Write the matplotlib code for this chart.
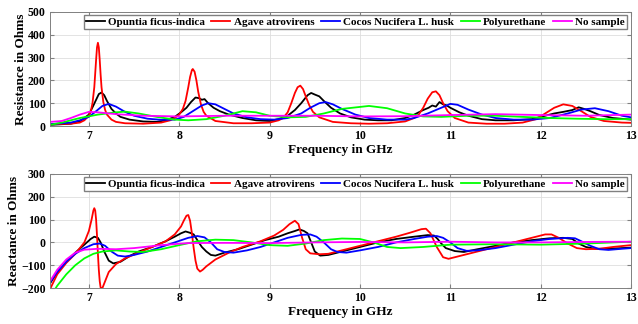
import matplotlib
matplotlib.use("Agg")
import matplotlib.pyplot as plt

plt.rcParams['font.family'] = ['Liberation Serif', 'DejaVu Serif']
plt.rcParams['font.weight'] = 'bold'

# ---- Resistance (top panel) ----
f_res_opuntia = [6.57, 6.8, 6.9, 7.0, 7.05, 7.08, 7.11, 7.14, 7.17, 7.2, 7.25, 7.3, 7.35, 7.45, 7.6,
                 7.75, 7.85, 7.95, 8.02, 8.08, 8.13, 8.18, 8.22, 8.25, 8.28, 8.32, 8.38, 8.45, 8.55,
                 8.7, 8.85, 9.0, 9.1, 9.2, 9.28, 9.35, 9.42, 9.46, 9.5, 9.55, 9.6, 9.68, 9.78, 9.9,
                 10.05, 10.2, 10.35, 10.5, 10.6, 10.7, 10.76, 10.8, 10.84, 10.88, 10.92, 10.96, 11.0,
                 11.1, 11.2, 11.35, 11.5, 11.7, 11.9, 12.05, 12.15, 12.25, 12.35, 12.42, 12.48, 12.55,
                 12.65, 12.8, 13.0]
r_opuntia = [5, 10, 20, 50, 90, 115, 140, 147, 135, 110, 75, 55, 40, 28, 20,
             18, 25, 40, 60, 80, 105, 125, 122, 115, 118, 100, 80, 65, 50,
             35, 25, 22, 30, 45, 70, 100, 135, 145, 138, 130, 110, 80, 55, 38,
             28, 25, 25, 35, 50, 70, 80, 90, 85, 105, 95, 90, 80,
             60, 45, 30, 25, 25, 30, 45, 55, 62, 70, 82, 75, 65,
             48, 35, 28]

f_res_agave = [6.57, 6.8, 6.9, 6.95, 7.0, 7.02, 7.04, 7.06, 7.07, 7.08, 7.09, 7.1, 7.11, 7.12, 7.13,
               7.14, 7.16, 7.18, 7.2, 7.25, 7.3, 7.4, 7.6, 7.8, 7.9, 7.95, 8.0, 8.04, 8.07, 8.1,
               8.12, 8.14, 8.15, 8.17, 8.19, 8.21, 8.24, 8.27, 8.3, 8.4, 8.6, 8.8, 9.0, 9.1, 9.15,
               9.2, 9.24, 9.28, 9.31, 9.34, 9.37, 9.4, 9.44, 9.48, 9.55, 9.7, 9.9,
               10.1, 10.3, 10.5, 10.6, 10.65, 10.7, 10.75, 10.8, 10.84, 10.88, 10.92, 10.97, 11.05,
               11.2, 11.4, 11.6, 11.8, 11.95, 12.05, 12.15, 12.25, 12.35, 12.45, 12.55, 12.7, 12.9, 13.0]
r_agave = [8, 10, 15, 25, 45, 62, 100, 170, 230, 290, 345, 365, 345, 290, 225,
           170, 105, 70, 50, 28, 18, 12, 10, 15, 25, 35, 50, 75, 110, 170,
           215, 245, 250, 238, 200, 150, 95, 62, 45, 22, 12, 12, 15, 25, 35,
           60, 100, 145, 170, 177, 162, 130, 90, 62, 38, 18, 12,
           10, 12, 20, 35, 50, 80, 120, 148, 152, 135, 100, 65, 35,
           15, 10, 10, 15, 30, 55, 80, 95, 88, 65, 40, 22, 15, 14]

f_res_cocos = [6.57, 6.8, 6.9, 7.0, 7.08, 7.15, 7.22, 7.3, 7.4, 7.5, 7.65, 7.8, 7.95, 8.05, 8.15,
               8.25, 8.32, 8.4, 8.5, 8.6, 8.75, 8.9, 9.05, 9.2, 9.35, 9.45, 9.55, 9.62, 9.7, 9.8,
               9.95, 10.1, 10.3, 10.5, 10.6, 10.75, 10.9, 11.0, 11.08, 11.2, 11.35, 11.5, 11.7, 11.9,
               12.1, 12.3, 12.45, 12.6, 12.75, 12.9, 13.0]
r_cocos = [8, 15, 25, 40, 65, 88, 97, 85, 62, 45, 32, 27, 28, 40, 65,
           90, 100, 95, 75, 55, 38, 30, 28, 35, 55, 80, 100, 105, 95, 75,
           50, 35, 28, 28, 35, 55, 80, 97, 93, 72, 50, 35, 28, 28,
           35, 55, 72, 78, 65, 45, 38]

f_res_poly = [6.57, 6.7, 6.9, 7.1, 7.3, 7.4, 7.55, 7.75, 7.95, 8.1, 8.3, 8.5, 8.7, 8.85, 9.0, 9.2,
              9.4, 9.6, 9.8, 10.1, 10.3, 10.5, 10.7, 10.9, 11.2, 11.5, 11.8, 12.1, 12.4, 12.7, 13.0]
r_poly = [5, 15, 35, 50, 60, 63, 55, 40, 28, 25, 30, 45, 65, 60, 45, 38,
          40, 55, 75, 88, 78, 55, 42, 40, 45, 45, 40, 35, 32, 30, 30]

f_res_none = [6.57, 6.7, 6.8, 6.9, 7.0, 7.1, 7.3, 7.6, 8.0, 8.5, 9.0, 9.5, 10.0, 10.5, 11.0,
              11.5, 12.0, 12.5, 13.0]
r_none = [18, 22, 35, 50, 62, 60, 52, 45, 42, 45, 45, 45, 42, 43, 48,
          52, 48, 45, 50]

# ---- Reactance (bottom panel) ----
f_x_opuntia = [6.57, 6.65, 6.75, 6.85, 6.95, 7.02, 7.06, 7.1, 7.13, 7.17, 7.22, 7.27, 7.35, 7.45,
               7.55, 7.7, 7.85, 7.95, 8.02, 8.07, 8.12, 8.16, 8.2, 8.25, 8.3, 8.35, 8.4, 8.5, 8.65,
               8.8, 8.95, 9.1, 9.2, 9.28, 9.33, 9.38, 9.42, 9.46, 9.5, 9.56, 9.65, 9.8, 10.0, 10.2,
               10.4, 10.6, 10.75, 10.82, 10.86, 10.9, 10.95, 11.05, 11.15, 11.3, 11.5, 11.7, 11.9,
               12.1, 12.25, 12.35, 12.42, 12.5, 12.6, 12.75, 12.9, 13.0]
x_opuntia = [-180, -130, -85, -45, -10, 15, 25, 20, 0, -40, -80, -92, -85, -60,
             -40, -20, 5, 25, 40, 48, 42, 35, 10, -20, -40, -55, -58, -45, -30,
             -10, 10, 25, 40, 50, 57, 50, 40, 0, -40, -58, -55, -40, -20, 0,
             15, 25, 32, 30, 15, -5, -25, -38, -42, -30, -15, 0, 10,
             18, 20, 15, -5, -20, -28, -28, -25, -23]

f_x_agave = [6.57, 6.65, 6.75, 6.85, 6.95, 7.0, 7.03, 7.05, 7.06, 7.07, 7.08, 7.09, 7.1, 7.11,
             7.12, 7.13, 7.14, 7.15, 7.17, 7.22, 7.3, 7.4, 7.55, 7.7, 7.85, 7.95, 8.02, 8.05, 8.08,
             8.1, 8.12, 8.14, 8.16, 8.18, 8.2, 8.23, 8.26, 8.3, 8.4,
             8.55, 8.7, 8.9, 9.05, 9.15, 9.22, 9.28, 9.32, 9.36, 9.4, 9.45, 9.55, 9.65, 9.8, 10.0,
             10.2, 10.4, 10.55, 10.68, 10.73, 10.78, 10.85, 10.92, 10.98, 11.1, 11.3, 11.5, 11.7,
             11.9, 12.05, 12.12, 12.2, 12.3, 12.4, 12.5, 12.65, 12.8, 13.0]
x_agave = [-205, -140, -90, -50, 0, 50, 100, 140, 150, 140, 100, 30, -50, -120,
           -170, -198, -205, -200, -180, -130, -95, -70, -45, -20, 5, 35, 70, 95, 117,
           120, 95, 40, -25, -80, -115, -128, -120, -105, -75,
           -45, -20, 5, 30, 55, 80, 95, 80, 20, -30, -48, -52, -50, -35, -15,
           5, 25, 42, 58, 60, 40, -20, -65, -72, -60, -40, -20, 0,
           20, 35, 35, 20, -5, -25, -30, -28, -20, -12]

f_x_cocos = [6.57, 6.65, 6.75, 6.85, 6.95, 7.05, 7.12, 7.18, 7.25, 7.32, 7.4, 7.5, 7.65, 7.8,
             7.95, 8.1, 8.2, 8.28, 8.35, 8.42, 8.5, 8.6, 8.75, 8.9, 9.05, 9.2, 9.35, 9.45, 9.52,
             9.6, 9.68, 9.75, 9.85, 10.0, 10.2, 10.4, 10.6, 10.75, 10.85, 10.92, 11.0, 11.08,
             11.18, 11.3, 11.5, 11.7, 11.9, 12.1, 12.3, 12.38, 12.45, 12.55, 12.65, 12.75, 12.9, 13.0]
x_cocos = [-175, -130, -85, -50, -25, -8, -5, -15, -40, -58, -62, -55, -40, -20,
           0, 20, 28, 22, 0, -30, -42, -45, -35, -20, 0, 20, 33, 35, 25,
           0, -30, -42, -45, -35, -20, 0, 15, 25, 28, 20, 0, -25,
           -37, -35, -25, -10, 5, 15, 20, 18, 5, -15, -30, -33, -28, -25]

f_x_poly = [6.57, 6.65, 6.75, 6.85, 6.95, 7.05, 7.15, 7.3, 7.45, 7.6, 7.8, 8.0, 8.2, 8.4, 8.6,
            8.8, 9.0, 9.2, 9.4, 9.6, 9.8, 10.0, 10.15, 10.3, 10.45, 10.7, 11.0, 11.5, 12.0, 12.5, 13.0]
x_poly = [-240, -190, -140, -100, -70, -50, -40, -35, -40, -42, -30, -12, 5, 12, 10,
          0, -12, -15, -5, 10, 17, 15, 0, -20, -25, -20, -10, -8, -10, -5, 3]

f_x_none = [6.57, 6.65, 6.75, 6.85, 6.95, 7.1, 7.3, 7.5, 7.8, 8.1, 8.5, 9.0, 9.5, 10.0, 10.5,
            11.0, 11.5, 12.0, 12.5, 13.0]
x_none = [-170, -120, -75, -45, -32, -28, -30, -25, -12, -3, -2, -3, 0, 2, 0,
          3, 0, 0, 2, 3]

labels = ['Opuntia ficus-indica', 'Agave atrovirens', 'Cocos Nucifera L. husk',
          'Polyurethane', 'No sample']
colors = ['black', '#ff0000', '#0000ff', '#00ff00', '#ff00ff']


def style_axes(ax, ylabel, yticks):
    ax.set_xlim(6.57, 13)
    ax.set_ylim(yticks[0], yticks[-1])
    ax.set_xticks([7, 8, 9, 10, 11, 12, 13])
    ax.set_yticks(yticks)
    ax.grid(True, color='#dedede', linewidth=0.6)
    ax.set_axisbelow(True)
    ax.tick_params(direction='in', top=True, right=True, labelsize=8.5,
                   length=3, color='#808080', pad=3)
    for s in ax.spines.values():
        s.set_color('#808080')
        s.set_linewidth(0.7)
    for lab in ax.get_xticklabels() + ax.get_yticklabels():
        lab.set_fontweight('bold')
    ax.set_xlabel('Frequency in GHz', fontsize=9.5, fontweight='bold', labelpad=1)
    ax.set_ylabel(ylabel, fontsize=9.5, fontweight='bold', labelpad=1)
    ax.legend(ncol=5, loc='upper right', bbox_to_anchor=(0.993, 0.975),
              prop={'weight': 'bold', 'size': 8}, handlelength=1.7, handletextpad=0.3,
              columnspacing=0.6, borderpad=0.2, borderaxespad=0.0, fancybox=False,
              edgecolor='#808080', framealpha=1)


fig = plt.figure(figsize=(6.38, 3.24), dpi=100)
ax1 = fig.add_axes([0.0784, 0.6111, 0.9107, 0.3519])
ax2 = fig.add_axes([0.0784, 0.1111, 0.9107, 0.3519])

res_data = [(f_res_opuntia, r_opuntia), (f_res_agave, r_agave), (f_res_cocos, r_cocos),
            (f_res_poly, r_poly), (f_res_none, r_none)]
x_data = [(f_x_opuntia, x_opuntia), (f_x_agave, x_agave), (f_x_cocos, x_cocos),
          (f_x_poly, x_poly), (f_x_none, x_none)]

for (f, v), lab, c in zip(res_data, labels, colors):
    ax1.plot(f, v, color=c, lw=1.3, label=lab)
for (f, v), lab, c in zip(x_data, labels, colors):
    ax2.plot(f, v, color=c, lw=1.3, label=lab)

style_axes(ax1, 'Resistance in Ohms', [0, 100, 200, 300, 400, 500])
style_axes(ax2, 'Reactance in Ohms', [-200, -100, 0, 100, 200, 300])

fig.savefig('out.png', dpi=100)
